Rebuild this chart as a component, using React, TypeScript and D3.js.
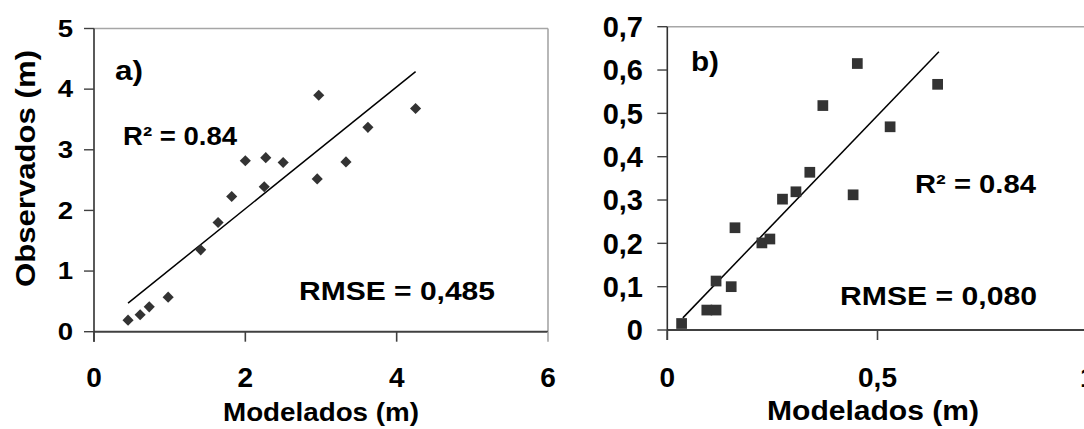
import React, { useEffect, useRef } from "react";
import * as d3 from "d3";

// panel a) heights
const modeladosA = [0.45, 0.61, 0.73, 0.98, 1.41, 1.64, 1.82, 2.0, 2.27, 2.25, 2.5, 2.97, 2.95, 3.33, 3.62, 4.25];
const observadosA = [0.19, 0.28, 0.41, 0.57, 1.35, 1.8, 2.23, 2.82, 2.87, 2.39, 2.79, 3.9, 2.52, 2.8, 3.37, 3.68];
const trendAX = [0.45, 4.25];
const trendAY = [0.47, 4.29];
const ticksAX = [0, 2, 4, 6];
const ticksAY = [0, 1, 2, 3, 4, 5];

// panel b)
const modeladosB = [0.034, 0.094, 0.116, 0.116, 0.152, 0.161, 0.225, 0.244, 0.274, 0.306, 0.339, 0.37, 0.442, 0.452, 0.53, 0.643];
const observadosB = [0.015, 0.046, 0.046, 0.113, 0.1, 0.236, 0.201, 0.21, 0.302, 0.319, 0.364, 0.518, 0.312, 0.615, 0.469, 0.567];
const trendBX = [0.037, 0.646];
const trendBY = [0.028, 0.642];
const ticksBX = [0, 0.5, 1];
const ticksBY = [0, 0.1, 0.2, 0.3, 0.4, 0.5, 0.6, 0.7];

const labelsA = { tag: "a)", r2: "R² = 0.84", rmse: "RMSE = 0,485" };
const labelsB = { tag: "b)", r2: "R² = 0.84", rmse: "RMSE = 0,080" };

const FONT = "'Liberation Sans', Arial, sans-serif";
const comma = (v) => (v === 0 ? "0" : String(v).replace(".", ","));

function drawPanel(svg, cfg) {
  const x = d3.scaleLinear().domain(cfg.xDomain).range(cfg.xRange);
  const y = d3.scaleLinear().domain(cfg.yDomain).range(cfg.yRange);
  const g = svg.append("g");
  const [x0, x1] = cfg.xRange;
  const [y0, y1] = cfg.yRange;
  const tick = 10;

  // grey frame top / right
  g.append("line").attr("x1", x0).attr("x2", x1).attr("y1", y1).attr("y2", y1)
    .attr("stroke", "#a6a6a6").attr("stroke-width", 1.6);
  g.append("line").attr("x1", x1).attr("x2", x1).attr("y1", y1).attr("y2", y0)
    .attr("stroke", "#a6a6a6").attr("stroke-width", 1.6);

  // axes
  g.append("line").attr("x1", x0).attr("x2", x1).attr("y1", y0).attr("y2", y0)
    .attr("stroke", "#404040").attr("stroke-width", 2);
  g.append("line").attr("x1", x0).attr("x2", x0).attr("y1", y1).attr("y2", y0 + tick)
    .attr("stroke", "#303030").attr("stroke-width", 1.6);

  g.selectAll(".ty").data(cfg.yTicks).join("line")
    .attr("x1", x0 - tick).attr("x2", x0)
    .attr("y1", (d) => y(d)).attr("y2", (d) => y(d))
    .attr("stroke", "#404040").attr("stroke-width", 1.4);
  g.selectAll(".tx").data(cfg.xTicks).join("line")
    .attr("x1", (d) => x(d)).attr("x2", (d) => x(d))
    .attr("y1", y0).attr("y2", y0 + tick)
    .attr("stroke", (d, i) => (i === cfg.xTicks.length - 1 ? "#a6a6a6" : "#404040"))
    .attr("stroke-width", 1.6);

  // tick labels
  g.selectAll(".ly").data(cfg.yTicks).join("text")
    .attr("transform", (d) => `translate(${cfg.yLabelX},${y(d) + cfg.yTickSize * 0.36}) scale(${cfg.yTickScale},1)`)
    .attr("text-anchor", "end")
    .attr("font-family", FONT).attr("font-weight", "bold").attr("font-size", cfg.yTickSize)
    .text((d) => comma(d));
  g.selectAll(".lx").data(cfg.xTicks).join("text")
    .attr("x", (d) => x(d)).attr("y", 386.5)
    .attr("text-anchor", "middle")
    .attr("font-family", FONT).attr("font-weight", "bold").attr("font-size", cfg.xTickSize)
    .text((d) => comma(d));

  // trend line
  const line = d3.line().x((d) => x(d[0])).y((d) => y(d[1]));
  g.append("path")
    .datum(cfg.trendX.map((v, i) => [v, cfg.trendY[i]]))
    .attr("fill", "none").attr("stroke", "#000").attr("stroke-width", 1.5)
    .attr("d", line);

  // points
  const sym = d3.symbol().type(d3.symbolSquare).size(cfg.markerArea);
  g.selectAll(".pt").data(cfg.xs.map((v, i) => [v, cfg.ys[i]])).join("path")
    .attr("transform", (d) => `translate(${x(d[0])},${y(d[1])}) rotate(${cfg.markerRotate})`)
    .attr("d", sym)
    .attr("fill", "#333333");

  // annotations
  const text = (t, px, py, size, len) => {
    g.append("text").attr("x", px).attr("y", py)
      .attr("font-family", FONT).attr("font-weight", "bold").attr("font-size", size)
      .attr("textLength", len).attr("lengthAdjust", "spacingAndGlyphs")
      .text(t);
  };
  text(cfg.labels.tag, cfg.tagPos[0], cfg.tagPos[1], 28, 28);
  text(cfg.labels.r2, cfg.r2Pos[0], cfg.r2Pos[1], cfg.annSize, cfg.r2Len);
  text(cfg.labels.rmse, cfg.rmsePos[0], cfg.rmsePos[1], cfg.annSize, cfg.rmseLen);

  // x title
  g.append("text")
    .attr("x", cfg.xTitlePos[0] - cfg.xTitleLen / 2).attr("y", cfg.xTitlePos[1])
    .attr("font-family", FONT).attr("font-weight", "bold").attr("font-size", cfg.xTitleSize)
    .attr("textLength", cfg.xTitleLen).attr("lengthAdjust", "spacingAndGlyphs")
    .text("Modelados (m)");
}

export default function App() {
  const svgRef = useRef(null);

  useEffect(() => {
    const svg = d3.select(svgRef.current);
    svg.selectAll("*").remove();

    drawPanel(svg, {
      xDomain: [0, 6], yDomain: [0, 5],
      xRange: [94, 548], yRange: [331.7, 28.5],
      xTicks: ticksAX, yTicks: ticksAY,
      yLabelX: 73, yTickSize: 23, yTickScale: 1.2, xTickSize: 28,
      trendX: trendAX, trendY: trendAY,
      xs: modeladosA, ys: observadosA,
      markerArea: 62, markerRotate: 45,
      labels: labelsA,
      tagPos: [115, 80], r2Pos: [123, 145], rmsePos: [299, 300],
      annSize: 25, r2Len: 114, rmseLen: 196,
      xTitlePos: [321, 421], xTitleSize: 25, xTitleLen: 196,
    });

    drawPanel(svg, {
      xDomain: [0, 1], yDomain: [0, 0.7],
      xRange: [667.3, 1087.7], yRange: [330, 26.7],
      xTicks: ticksBX, yTicks: ticksBY,
      yLabelX: 643, yTickSize: 29, yTickScale: 1, xTickSize: 28,
      trendX: trendBX, trendY: trendBY,
      xs: modeladosB, ys: observadosB,
      markerArea: 115, markerRotate: 0,
      labels: labelsB,
      tagPos: [691, 71], r2Pos: [915, 193], rmsePos: [840, 305],
      annSize: 25.5, r2Len: 121, rmseLen: 197,
      xTitlePos: [873, 420], xTitleSize: 28, xTitleLen: 212,
    });

    // y title (panel a only)
    svg.append("text")
      .attr("transform", "translate(35,168.5) rotate(-90)")
      .attr("x", -118.5)
      .attr("font-family", FONT).attr("font-weight", "bold").attr("font-size", 27)
      .attr("textLength", 237).attr("lengthAdjust", "spacingAndGlyphs")
      .text("Observados (m)");
  }, []);

  return (
    <svg
      ref={svgRef}
      width={1084}
      height={429}
      style={{ position: "absolute", left: 0, top: 0, background: "#fff" }}
    />
  );
}
